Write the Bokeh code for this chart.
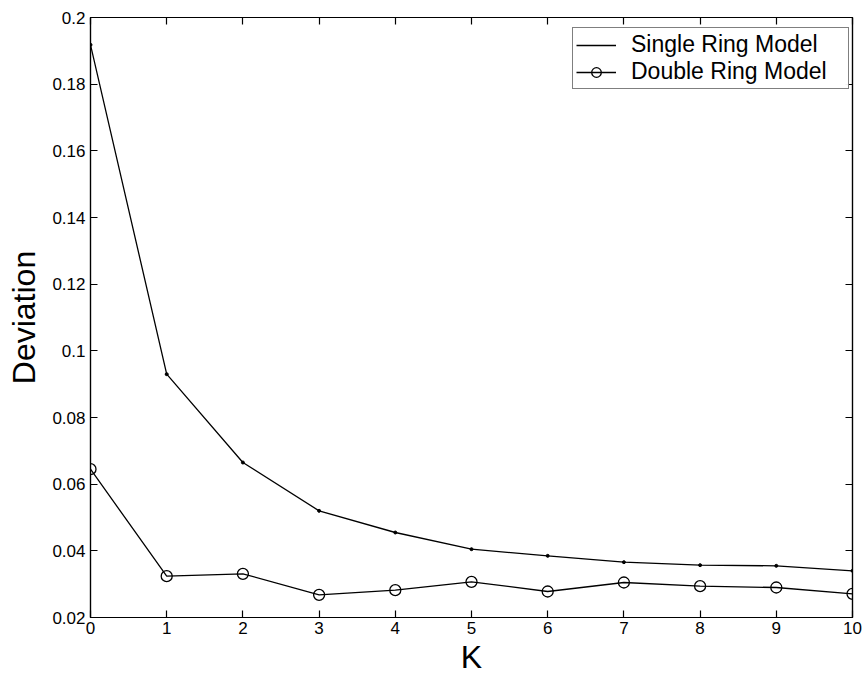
from bokeh.plotting import figure
from bokeh.models import (LinearAxis, FixedTicker, CustomJSTickFormatter, Legend, LegendItem,
                          Range1d, CustomLabelingPolicy)
from bokeh.embed import file_html
from bokeh.resources import INLINE

k = [0, 1, 2, 3, 4, 5, 6, 7, 8, 9, 10]
single_ring = [0.1918, 0.0930, 0.0665, 0.0520, 0.0455, 0.0405, 0.0385, 0.0366, 0.0357, 0.0355, 0.0340]
double_ring = [0.0645, 0.0324, 0.0331, 0.0268, 0.0282, 0.0307, 0.0278, 0.0305, 0.0294, 0.0290, 0.0271]
x_ticks = [0, 1, 2, 3, 4, 5, 6, 7, 8, 9, 10]
y_ticks = [0.02, 0.04, 0.06, 0.08, 0.10, 0.12, 0.14, 0.16, 0.18, 0.20]

FONT = "Liberation Sans"

p = figure(width=866, height=677, output_backend="svg", toolbar_location=None,
           x_range=Range1d(0, 10), y_range=Range1d(0.02, 0.2),
           min_border_left=90, min_border_right=14, min_border_top=17, min_border_bottom=59,
           x_axis_location=None, y_axis_location=None)
p.grid.visible = False
p.outline_line_color = "black"
p.outline_line_width = 1.2
p.background_fill_color = "white"
p.border_fill_color = "white"

fmt = CustomJSTickFormatter(code="return String(parseFloat(tick.toFixed(4)));")
empty_fmt = CustomJSTickFormatter(code="return '';")
no_labels = CustomLabelingPolicy(code="""
try { return new indices.constructor(indices.size, 0); }
catch (e) { for (const i of [...indices]) indices.unset(i); return indices; }
""")

def make_axis(ticks, labels=True, label=None):
    ax = LinearAxis(ticker=FixedTicker(ticks=ticks), formatter=fmt if labels else empty_fmt)
    ax.major_tick_in = 7
    ax.major_tick_out = 0
    ax.minor_tick_line_color = None
    ax.axis_line_color = "black"
    ax.axis_line_width = 1.2
    ax.major_tick_line_color = "black"
    ax.major_tick_line_width = 1.2
    ax.major_label_text_font = FONT
    ax.major_label_text_font_size = "17px"
    ax.major_label_text_color = "black"
    if not labels:
        ax.major_label_policy = no_labels
        ax.major_label_standoff = 0
        ax.major_label_text_font_size = "1px"
    if label:
        ax.axis_label = label
        ax.axis_label_text_font = FONT
        ax.axis_label_text_font_size = "32px"
        ax.axis_label_text_font_style = "normal"
        ax.axis_label_text_color = "black"
    return ax

xb = make_axis(x_ticks, True, "K")
xb.major_label_standoff = 4
xb.axis_label_standoff = 2
yl = make_axis(y_ticks, True, "Deviation")
yl.major_label_standoff = 5
yl.axis_label_standoff = 7
xt = make_axis(x_ticks, False)
yr = make_axis(y_ticks, False)
p.add_layout(xb, "below")
p.add_layout(yl, "left")
p.add_layout(xt, "above")
p.add_layout(yr, "right")

l1 = p.line(k, single_ring, line_color="black", line_width=1.3)
m1 = p.scatter(k, single_ring, size=3, fill_color="black", line_color="black")
l2 = p.line(k, double_ring, line_color="black", line_width=1.3)
m2 = p.scatter(k, double_ring, size=11, fill_color=None, line_color="black", line_width=1.3)

legend = Legend(items=[LegendItem(label="Single Ring Model", renderers=[l1]),
                       LegendItem(label="Double Ring Model", renderers=[l2, m2])],
                location=(482, 528))
legend.label_text_font = FONT
legend.label_text_font_size = "23px"
legend.label_text_color = "black"
legend.border_line_color = "black"
legend.border_line_width = 1.2
legend.margin = 0
legend.padding = 3
legend.spacing = 0
legend.glyph_width = 40
legend.label_standoff = 15
legend.label_height = 24
legend.glyph_height = 24
legend.label_width = 214
p.add_layout(legend)

open("out.html", "w").write(file_html(p, INLINE))
